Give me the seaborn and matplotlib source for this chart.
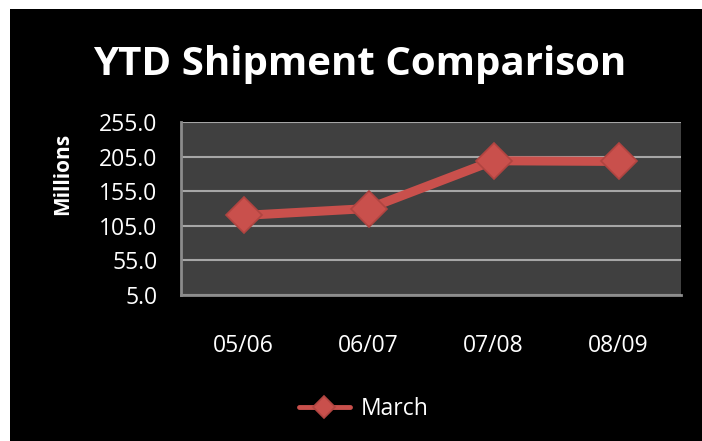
import pandas as pd
import matplotlib.pyplot as plt
import matplotlib.patches as mpatches
import seaborn as sns

# -----------------------------
# Data
# -----------------------------
years = ["05/06", "06/07", "07/08", "08/09"]
march = [120.0, 130.0, 199.0, 198.0]
y_ticks = [5.0, 55.0, 105.0, 155.0, 205.0, 255.0]

df = pd.DataFrame({"Year": years, "Shipments": march, "Series": "March"})

# -----------------------------
# Style
# -----------------------------
sns.set_theme(style="dark")
plt.rcParams['font.family'] = ['Open Sans', 'DejaVu Sans']

red = "#C9504C"
fig = plt.figure(figsize=(7.02, 4.41), dpi=100, facecolor="white")
# black chart background, leaving a thin white margin at top/left
fig.patches.append(mpatches.Rectangle((10 / 702, 0), 1, 1 - 9 / 441,
                                      transform=fig.transFigure,
                                      facecolor="black", edgecolor="none", zorder=-5))

ax = fig.add_axes([181 / 702, 1 - 295 / 441, 500 / 702, 173 / 441])
ax.set_facecolor("#404040")

sns.lineplot(data=df, x="Year", y="Shipments", hue="Series", palette=[red],
             marker="D", markersize=18, markeredgecolor="#B04440",
             markeredgewidth=1.2, linewidth=6.5, ax=ax, legend=True)

ax.set_xlim(-0.5, len(years) - 0.5)
ax.set_ylim(y_ticks[0], y_ticks[-1])
ax.set_yticks(y_ticks)
ax.set_yticklabels([f"{v:.1f}" for v in y_ticks])
ax.grid(axis="y", color="#A6A6A6", linewidth=1.5)
ax.grid(axis="x", visible=False)

for side in ["top", "right"]:
    ax.spines[side].set_visible(False)
for side in ["left", "bottom"]:
    ax.spines[side].set_visible(True)
    ax.spines[side].set_color("#8C8C8C")
    ax.spines[side].set_linewidth(2)

ax.tick_params(axis="y", colors="white", labelsize=16.5, pad=17, length=0)
ax.tick_params(axis="x", colors="white", labelsize=16.5, pad=28, length=0)
ax.set_xlabel("")
ax.set_ylabel("")
fig.text(63 / 702, 1 - 174 / 441, "Millions", color="white", fontsize=15,
         fontweight="bold", rotation=90, ha="center", va="center")

fig.text(0.513, 1 - 64 / 441, "YTD Shipment Comparison", color="white",
         fontsize=29, fontweight="bold", ha="center", va="center")

leg = ax.legend(loc="center", bbox_to_anchor=(0.366, -0.66), frameon=False,
                fontsize=16.5, handlelength=2.2, handletextpad=0.5, markerscale=0.6)
for t in leg.get_texts():
    t.set_color("white")
for ln in leg.get_lines():
    ln.set_linewidth(3.5)

fig.savefig("out.png", dpi=100, facecolor=fig.get_facecolor())
